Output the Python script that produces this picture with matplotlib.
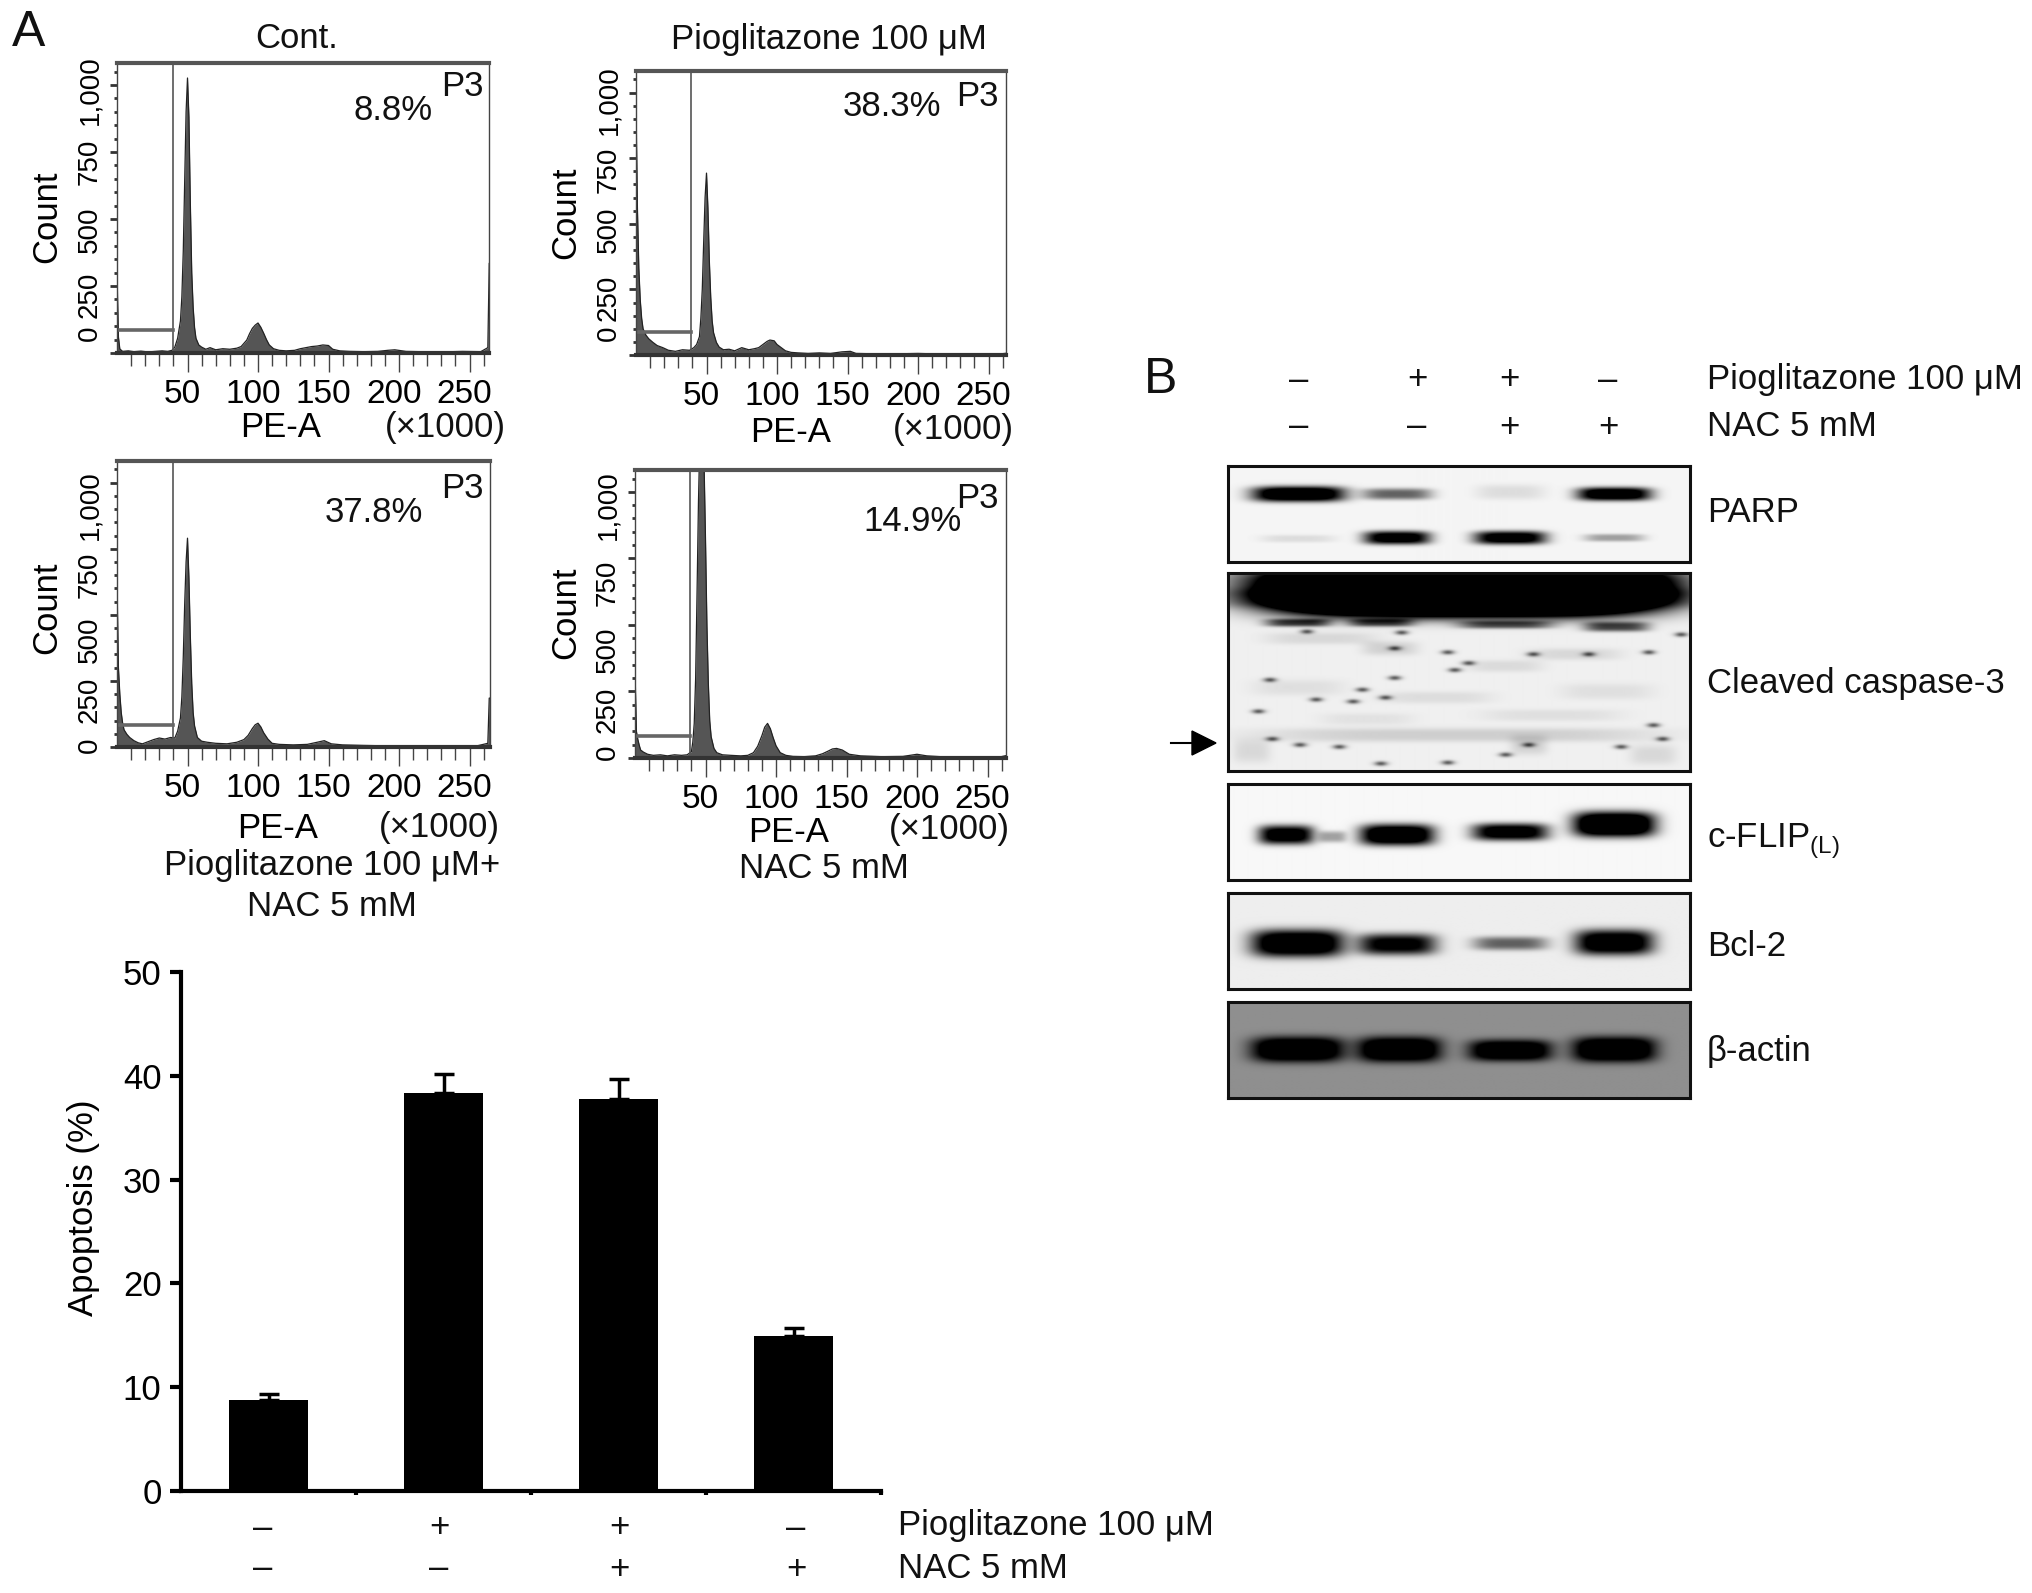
import matplotlib
matplotlib.use('Agg')
import matplotlib.pyplot as plt
from matplotlib.transforms import ScaledTranslation
import numpy as np

plt.rcParams['font.family'] = ['Liberation Sans', 'DejaVu Sans']

W, H = 2032, 1593
FS = 25

# flow cytometry histograms
x_cont = [0, 1, 2, 4, 8, 12, 17, 22, 27, 32, 36, 39, 41, 43, 45, 46, 47, 48, 49, 50, 51, 52, 53, 54, 55, 56, 58, 60, 63, 66, 70, 75, 80, 85, 88, 90, 92, 94, 96, 98, 100, 102, 104, 106, 108, 111, 115, 120, 126, 130, 134, 138, 142, 146, 150, 153, 158, 165, 175, 185, 192, 197, 205, 215, 230, 245, 258, 263, 264, 265]
y_cont = [300, 60, 15, 6, 8, 5, 7, 4, 6, 8, 6, 10, 22, 55, 120, 210, 380, 640, 900, 1026, 880, 560, 300, 170, 95, 55, 30, 22, 14, 20, 12, 16, 14, 18, 24, 36, 48, 72, 92, 104, 112, 96, 74, 50, 30, 16, 10, 8, 10, 16, 20, 24, 26, 30, 28, 14, 8, 6, 5, 6, 10, 12, 6, 5, 4, 6, 5, 20, 335, 335]

x_pio = [0, 1, 2, 3, 4, 5, 7, 9, 12, 15, 19, 23, 28, 33, 38, 41, 43, 45, 46, 47, 48, 49, 50, 51, 52, 53, 54, 55, 57, 59, 62, 66, 70, 75, 80, 84, 87, 90, 93, 95, 98, 100, 103, 106, 110, 115, 122, 130, 138, 146, 152, 156, 165, 180, 200, 220, 240, 258, 265, 266, 268]
y_pio = [950, 560, 330, 210, 140, 100, 76, 62, 48, 36, 28, 18, 14, 20, 18, 28, 40, 70, 140, 250, 430, 600, 693, 560, 360, 220, 130, 85, 48, 30, 20, 22, 16, 28, 20, 24, 28, 40, 52, 57, 54, 40, 28, 16, 10, 8, 6, 8, 6, 12, 14, 6, 5, 4, 6, 3, 5, 4, 8, 210, 210]

x_combo = [0, 1, 2, 3, 4, 5, 7, 9, 12, 15, 18, 22, 26, 30, 34, 38, 41, 43, 45, 46, 47, 48, 49, 50, 51, 52, 53, 54, 55, 57, 60, 64, 70, 78, 85, 90, 93, 96, 98, 100, 102, 104, 107, 110, 115, 125, 135, 142, 147, 152, 160, 175, 195, 215, 235, 255, 263, 264, 265]
y_combo = [620, 300, 200, 130, 90, 65, 48, 36, 24, 16, 12, 20, 28, 34, 30, 36, 34, 60, 110, 190, 340, 540, 700, 790, 640, 420, 240, 130, 80, 36, 22, 18, 14, 12, 18, 28, 44, 70, 84, 90, 76, 54, 30, 14, 10, 8, 10, 18, 24, 12, 8, 6, 4, 5, 3, 4, 14, 185, 185]

x_nac = [0, 1, 2, 3, 4, 6, 9, 13, 18, 23, 28, 33, 37, 40, 41, 42, 43, 44, 45, 46, 47, 48, 49, 50, 51, 52, 53, 54, 56, 58, 62, 68, 75, 80, 84, 87, 90, 92, 94, 96, 98, 100, 103, 107, 112, 120, 128, 133, 137, 140, 143, 147, 152, 160, 175, 190, 200, 207, 220, 240, 258, 264, 265, 266]
y_nac = [330, 100, 70, 48, 30, 22, 14, 10, 12, 8, 12, 10, 12, 24, 60, 130, 300, 620, 960, 1200, 1300, 1300, 1100, 820, 500, 280, 140, 80, 36, 20, 12, 10, 8, 10, 20, 44, 84, 116, 130, 110, 76, 46, 20, 10, 6, 5, 8, 16, 26, 34, 36, 30, 14, 8, 5, 6, 14, 8, 4, 5, 3, 10, 470, 470]

hist_names = ['Cont.', 'Pioglitazone 100 μM', None, None]
hist_x = [x_cont, x_pio, x_combo, x_nac]
hist_y = [y_cont, y_pio, y_combo, y_nac]
hist_pct = ['8.8%', '38.3%', '37.8%', '14.9%']
hist_ticks = [0, 250, 500, 750, 1000]
hist_ticklabels = ['0', '250', '500', '750', '1,000']
gate_x = [40, 39, 40, 39]
gate_y = [86, 88, 83, 83]

# bar chart
treatments = ['Cont.', 'Pioglitazone', 'Pioglitazone+NAC', 'NAC']
apoptosis = [8.8, 38.3, 37.8, 14.9]
apoptosis_err = [0.5, 1.9, 1.9, 0.8]
pio_signs = ['–', '+', '+', '–']
nac_signs = ['–', '–', '+', '+']

# westerns: (x centre, x half width, y centre, y half height, darkness) as fractions of the blot
parp_bands = [(.152, .10, .29, .08, 1.4), (.365, .075, .29, .06, .6), (.61, .075, .27, .08, .1), (.835, .08, .29, .07, 1.3),
              (.15, .08, .76, .04, .1), (.365, .072, .75, .07, 1.2), (.61, .078, .75, .07, 1.2), (.835, .065, .75, .04, .35)]
flip_bands = [(.125, .06, .53, .10, 1.2), (.225, .03, .55, .06, .35), (.365, .08, .53, .11, 1.4), (.61, .082, .5, .09, 1.2), (.835, .088, .42, .13, 1.6)]
bcl_bands = [(.15, .10, .53, .14, 1.4), (.365, .085, .54, .11, 1.1), (.61, .08, .53, .07, .6), (.835, .085, .52, .13, 1.3)]
actin_bands = [(.15, .10, .5, .13, 1.6), (.37, .09, .5, .13, 1.6), (.61, .09, .51, .11, 1.5), (.835, .09, .5, .13, 1.6)]
casp_bands = [(.51, .40, .09, .115, 4.0), (.5, .52, .03, .1, .4), (.5, .52, .125, .05, .45), (.15, .07, .25, .02, .7), (.33, .07, .25, .02, .6), (.6, .1, .26, .02, .6), (.84, .07, .27, .025, .7),
              (.5, .42, .82, .035, .14), (.65, .04, .87, .05, .13),
              (.35, .06, .38, .035, .13), (.75, .10, .41, .03, .1), (.2, .12, .33, .03, .1), (.6, .08, .47, .03, .09), (.15, .1, .58, .04, .07),
              (.45, .12, .63, .03, .08), (.82, .1, .6, .04, .07), (.3, .1, .74, .03, .06), (.7, .15, .72, .03, .07), (.92, .05, .92, .05, .1), (.05, .04, .9, .06, .1)]
casp_spots = [(.375, .30), (.475, .40), (.66, .41), (.78, .41), (.91, .40), (.98, .31), (.09, .54), (.49, .49), (.27, .65), (.34, .63),
              (.065, .70), (.095, .84), (.155, .87), (.33, .965), (.475, .96), (.65, .87), (.85, .88), (.92, .77), (.94, .84), (.24, .88),
              (.36, .53), (.19, .64), (.17, .295), (.36, .38), (.29, .59), (.52, .455), (.6, .92)]
blot_boxes = [(1228, 466, 1690, 562), (1228, 573, 1690, 771), (1228, 784, 1690, 880), (1228, 893, 1690, 989), (1228, 1002, 1690, 1098)]
blot_bg = [.96, .94, .97, .93, .56]
blot_bands = [parp_bands, casp_bands, flip_bands, bcl_bands, actin_bands]
blot_names = ['PARP', 'Cleaved caspase-3', 'c-FLIP$_{\\mathregular{(L)}}$', 'Bcl-2', 'β-actin']
blot_name_y = [509, 680, 838, 943, 1049]
blot_sign_x = [1299, 1417, 1509, 1608]

fig = plt.figure(figsize=(W / 100, H / 100), dpi=100)


def add_ax(x0, y0, x1, y1):
    return fig.add_axes([x0 / W, 1 - y1 / H, (x1 - x0) / W, (y1 - y0) / H])


def put(x, y, s, size=FS, **kw):
    fig.text(x / W, 1 - (y + 3) / H, s, fontsize=size, ha=kw.pop('ha', 'center'), va=kw.pop('va', 'center'), color='#111111', **kw)


def histogram(i, box, label_y, count_pos, pe_pos, thou_pos, pct_pos, p3_pos, title_pos=None):
    x0, y0, x1, y1 = box
    ax = add_ax(x0, y0, x1, y1)
    ax.fill_between(hist_x[i], hist_y[i], 0, color='#555555', lw=0)
    ax.plot(hist_x[i], hist_y[i], color='#222222', lw=0.9)
    ax.axvline(gate_x[i], color='#555555', lw=1.2)
    ax.plot([0, gate_x[i]], [gate_y[i], gate_y[i]], color='#666666', lw=2.6)
    xmax = (x1 - x0) / 1.41
    ymax = 1082
    ax.set_xlim(0, xmax)
    ax.set_ylim(0, ymax)
    for side in ['left', 'right']:
        ax.spines[side].set_linewidth(1.0)
        ax.spines[side].set_color('#444444')
    ax.spines['top'].set_linewidth(3)
    ax.spines['top'].set_color('#555555')
    ax.spines['bottom'].set_linewidth(3)
    ax.spines['bottom'].set_color('#333333')
    ax.set_xticks([50, 100, 150, 200, 250])
    ax.set_xticks(np.arange(10, xmax, 10), minor=True)
    ax.set_yticks(hist_ticks)
    ax.set_yticks(np.arange(50, ymax, 50), minor=True)
    ax.tick_params(axis='x', which='major', length=14, width=1, color='#444444', labelsize=FS - 1, pad=5)
    ax.tick_params(axis='x', which='minor', length=9, width=1, color='#444444')
    ax.tick_params(axis='y', which='major', length=5, width=2, color='#333333', pad=5)
    ax.tick_params(axis='y', which='minor', length=2.5, width=2, color='#333333')
    ax.set_yticklabels(hist_ticklabels, rotation=90, va='center', fontsize=20)
    for lab in ax.get_xticklabels():
        lab.set_transform(lab.get_transform() + ScaledTranslation(-5 / 100, 0, fig.dpi_scale_trans))
    # the y numbers sit off their ticks in the original
    for lab, v, ly in zip(ax.get_yticklabels(), hist_ticks, label_y):
        tick_px = y1 - v * (y1 - y0) / ymax
        lab.set_transform(lab.get_transform() + ScaledTranslation(0, (tick_px - ly) / 100, fig.dpi_scale_trans))
    ax.set_ylabel('Count', fontsize=FS, va='center')
    ax.yaxis.set_label_coords(count_pos[0] / W, 1 - count_pos[1] / H, transform=fig.transFigure)
    ax.set_xlabel('PE-A', fontsize=FS, va='center')
    ax.xaxis.set_label_coords(pe_pos[0] / W, 1 - (pe_pos[1] + 2) / H, transform=fig.transFigure)
    put(thou_pos[0], thou_pos[1], '(×1000)')
    put(pct_pos[0], pct_pos[1], hist_pct[i])
    put(p3_pos[0], p3_pos[1], 'P3')
    if title_pos:
        put(title_pos[0], title_pos[1], hist_names[i])
    return ax


def blot(box, bg, bands, spots=None):
    x0, y0, x1, y1 = box
    w, h = x1 - x0, y1 - y0
    xx, yy = np.meshgrid(np.linspace(0, 1, w), np.linspace(0, 1, h))
    dark = np.zeros_like(xx)
    for xc, xw, yc, yh, d in bands:
        dark += d * np.exp(-(np.abs(xx - xc) / xw) ** 4) * np.exp(-(np.abs(yy - yc) / yh) ** 3)
    if spots:
        for sx, sy in spots:
            dark += 0.6 * np.exp(-((xx - sx) / .014) ** 2 - ((yy - sy) / .012) ** 2)
    img = bg * (1 - np.clip(dark, 0, 1))
    ax = add_ax(x0, y0, x1, y1)
    ax.imshow(img, cmap='gray', vmin=0, vmax=1, aspect='auto', extent=(0, 1, 1, 0), interpolation='bilinear')
    ax.set_xticks([])
    ax.set_yticks([])
    for sp in ax.spines.values():
        sp.set_linewidth(2.2)
        sp.set_color('#111111')
    return ax


histogram(0, (117, 63, 489, 353), [333, 295, 230, 162, 90], (47, 217), (281, 426), (445, 424), (393, 107), (462, 84), (297, 36))
histogram(1, (636, 71, 1006, 355), [333, 298, 230, 170, 100], (566, 213), (791, 430), (953, 427), (892, 103), (977, 93), (829, 36))
histogram(2, (117, 461, 490, 747), [745, 700, 640, 575, 505], (47, 608), (278, 826), (439, 824), (374, 510), (462, 486))
histogram(3, (635, 470, 1006, 758), [752, 710, 650, 583, 505], (566, 613), (789, 830), (949, 827), (912, 518), (977, 495))
put(332, 863, 'Pioglitazone 100 μM+')
put(332, 903, 'NAC 5 mM')
put(824, 866, 'NAC 5 mM')

# apoptosis bars
ax = add_ax(181, 972, 881, 1491)
pos = np.arange(4) + 0.5
ax.bar(pos, apoptosis, width=0.45, color='black')
ax.errorbar(pos, apoptosis, yerr=[[0] * 4, apoptosis_err], fmt='none', ecolor='black', elinewidth=2.5, capsize=7, capthick=2.5)
ax.set_xlim(0, 4)
ax.set_ylim(0, 50)
ax.set_yticks([0, 10, 20, 30, 40, 50])
ax.set_xticks([1, 2, 3, 4])
ax.set_xticklabels([])
ax.tick_params(axis='y', length=8, width=3, labelsize=FS, pad=6)
ax.tick_params(axis='x', length=3, width=3)
ax.spines['top'].set_visible(False)
ax.spines['right'].set_visible(False)
ax.spines['left'].set_linewidth(3)
ax.spines['bottom'].set_linewidth(3)
ax.set_ylabel('Apoptosis (%)', fontsize=FS, va='center')
ax.yaxis.set_label_coords(83 / W, 1 - 1208 / H, transform=fig.transFigure)
bar_sign_x = [263, 439, 619, 796]
for sx, p, n in zip(bar_sign_x, pio_signs, nac_signs):
    put(sx, 1525, p)
    put(sx, 1566, n)
put(898, 1522, 'Pioglitazone 100 μM', ha='left')
put(898, 1566, 'NAC 5 mM', ha='left')

# westerns
for i in range(5):
    blot(blot_boxes[i], blot_bg[i], blot_bands[i], casp_spots if i == 1 else None)
    put(1707, blot_name_y[i], blot_names[i], ha='left')
for sx, p, n in zip(blot_sign_x, pio_signs, nac_signs):
    put(sx, 377, p)
    put(sx, 424, n)
put(1707, 377, 'Pioglitazone 100 μM', ha='left')
put(1707, 423, 'NAC 5 mM', ha='left')
fig.add_artist(plt.Line2D([1171 / W, 1195 / W], [1 - 743 / H, 1 - 743 / H], color='black', lw=1.5))
fig.add_artist(plt.Polygon([[1192 / W, 1 - 731 / H], [1192 / W, 1 - 755 / H], [1216 / W, 1 - 743 / H]], closed=True, color='black', transform=fig.transFigure))

put(29, 30, 'A', size=36)
put(1161, 377, 'B', size=36)

fig.savefig('out.png', dpi=100)
